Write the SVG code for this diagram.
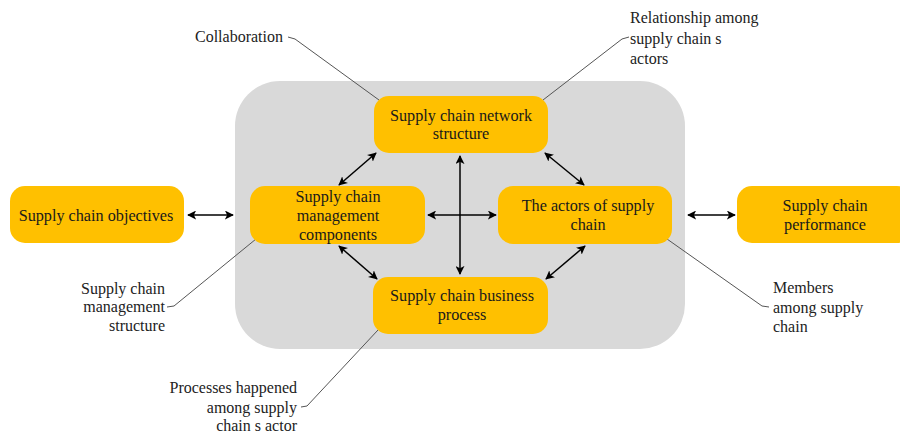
<svg xmlns="http://www.w3.org/2000/svg" width="900" height="435" viewBox="0 0 900 435">
<defs>
<marker id="ah" viewBox="0 0 10 10" refX="9" refY="5" markerWidth="9" markerHeight="9" markerUnits="userSpaceOnUse" orient="auto-start-reverse">
<path d="M0,0 L10,5 L0,10 L2.5,5 Z" fill="#000"/>
</marker>
<style>
.node{fill:#FFC000;}
.t{font-family:"Liberation Serif","Times New Roman",serif;font-size:16.2px;fill:#1a1a1a;text-anchor:middle;}
.c{font-family:"Liberation Serif","Times New Roman",serif;font-size:16px;fill:#222;}
.arr{stroke:#000;stroke-width:1.5;fill:none;marker-start:url(#ah);marker-end:url(#ah);}
.lead{stroke:#555;stroke-width:1;fill:none;}
</style>
</defs>
<rect width="900" height="435" fill="#fff"/>
<rect id="container" x="235" y="81" width="450" height="268" rx="45" fill="#d9d9d9"/>

<g id="connectors">
<line class="arr" x1="188" y1="215" x2="233" y2="215"/>
<line class="arr" x1="428" y1="215" x2="496" y2="215"/>
<line class="arr" x1="688" y1="215" x2="735" y2="215"/>
<line class="arr" x1="460" y1="156" x2="460" y2="274"/>
<line class="arr" x1="376" y1="153" x2="339" y2="185"/>
<line class="arr" x1="545" y1="153" x2="584" y2="185"/>
<line class="arr" x1="339" y1="246" x2="377" y2="279"/>
<line class="arr" x1="585" y1="246" x2="546" y2="279"/>
<polyline class="lead" points="288,37 295,39 379,100"/>
<polyline class="lead" points="543,100 622,39 629,37"/>
<polyline class="lead" points="256,239 174,306 167,307"/>
<polyline class="lead" points="667,239 762,306 769,307"/>
<polyline class="lead" points="378,330 307,406 301,407"/>
</g>

<g id="n-network">
<rect class="node" x="374" y="96" width="174" height="57" rx="15"/>
<text class="t" x="461" y="121">Supply chain network</text>
<text class="t" x="461" y="139">structure</text>
</g>
<g id="n-components">
<rect class="node" x="250" y="186" width="175" height="58" rx="15"/>
<text class="t" x="338" y="202">Supply chain</text>
<text class="t" x="338" y="221">management</text>
<text class="t" x="338" y="240">components</text>
</g>
<g id="n-actors">
<rect class="node" x="498" y="186" width="174" height="58" rx="15"/>
<text class="t" x="588" y="211">The actors of supply</text>
<text class="t" x="588" y="230">chain</text>
</g>
<g id="n-process">
<rect class="node" x="373" y="277" width="175" height="57" rx="15"/>
<text class="t" x="462" y="301">Supply chain business</text>
<text class="t" x="462" y="320">process</text>
</g>
<g id="n-objectives">
<rect class="node" x="10" y="186" width="174" height="57" rx="15"/>
<text class="t" x="96" y="221">Supply chain objectives</text>
</g>
<g id="n-performance">
<rect class="node" x="737" y="186" width="175" height="57" rx="15"/>
<text class="t" x="825" y="211">Supply chain</text>
<text class="t" x="825" y="230">performance</text>
</g>

<g id="callouts">
<text class="c" x="195" y="42">Collaboration</text>
<text class="c" x="630" y="23">Relationship among</text>
<text class="c" x="630" y="44">supply chain s</text>
<text class="c" x="630" y="64">actors</text>
<text class="c" x="165" y="294" text-anchor="end">Supply chain</text>
<text class="c" x="165" y="312" text-anchor="end">management</text>
<text class="c" x="165" y="331" text-anchor="end">structure</text>
<text class="c" x="773" y="293">Members</text>
<text class="c" x="773" y="313">among supply</text>
<text class="c" x="773" y="332">chain</text>
<text class="c" x="297" y="393" text-anchor="end">Processes happened</text>
<text class="c" x="297" y="413" text-anchor="end">among  supply</text>
<text class="c" x="297" y="431" text-anchor="end">chain s actor</text>
</g>
</svg>
